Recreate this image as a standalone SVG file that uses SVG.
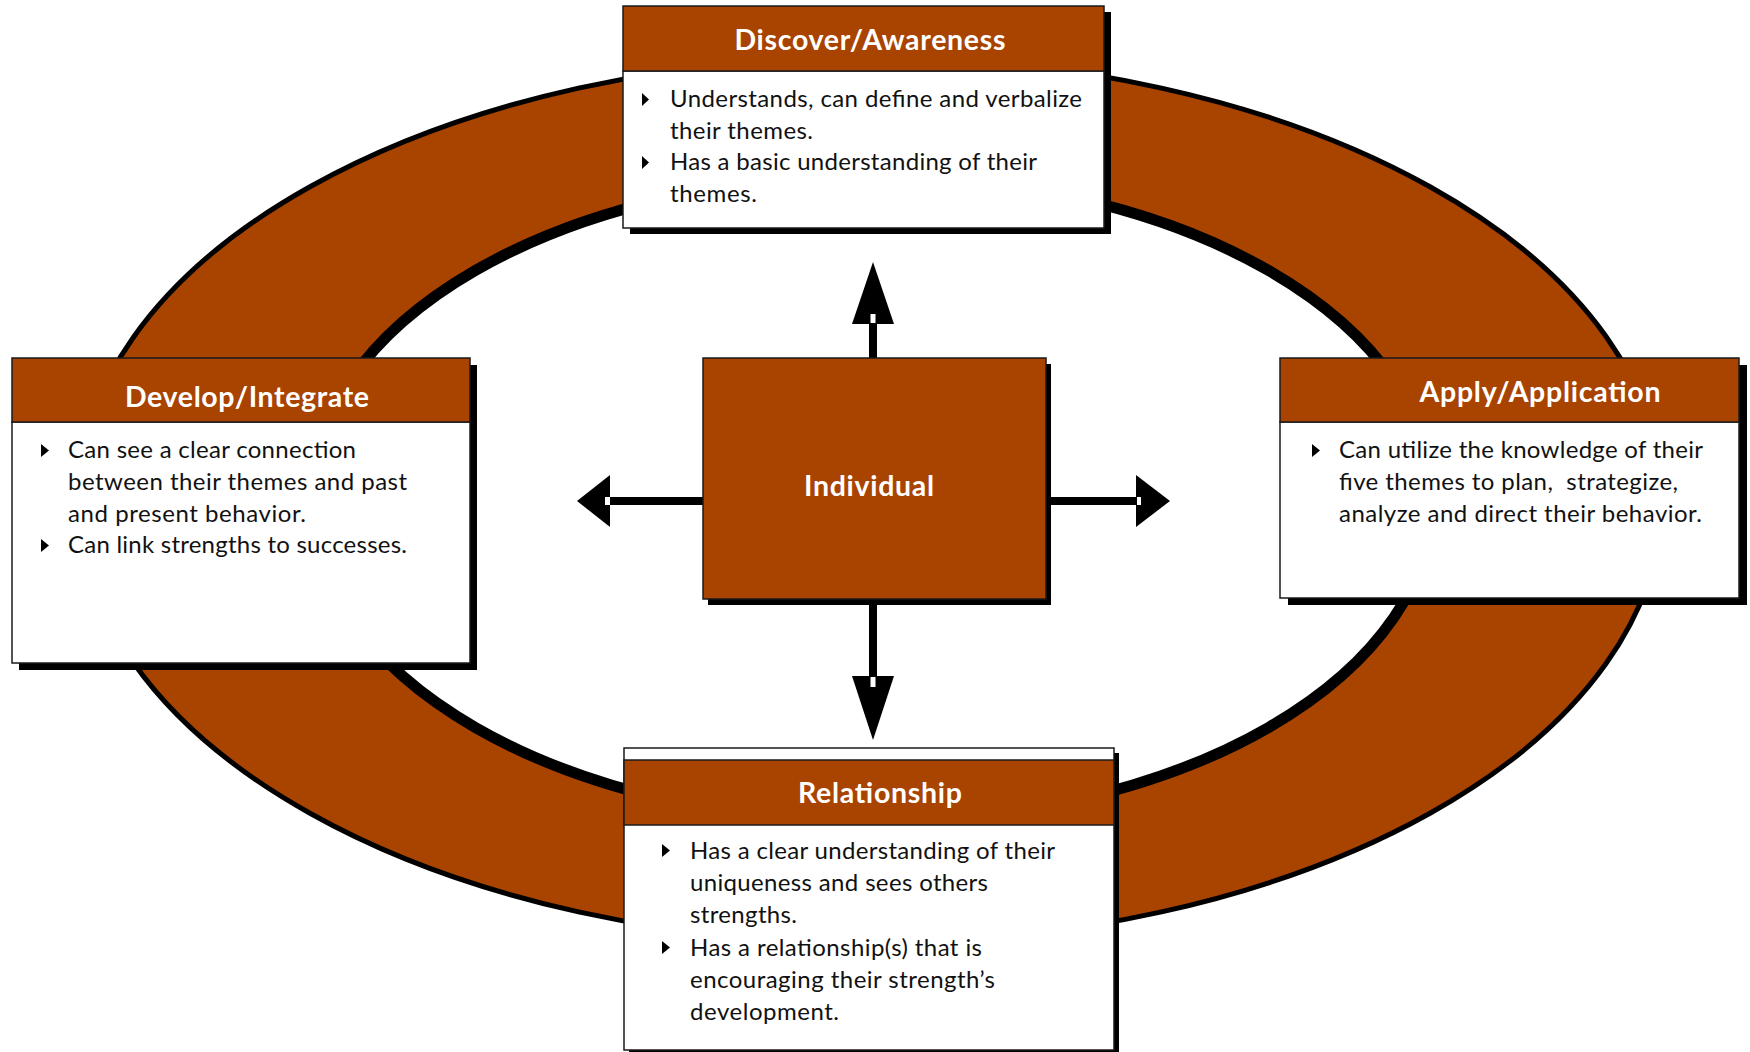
<svg xmlns="http://www.w3.org/2000/svg" width="1750" height="1052" viewBox="0 0 1750 1052">
<style>
.bg{fill:#fff}
.ring{fill:#A94300;stroke:#000;stroke-width:5}
.hole{fill:#fff;stroke:#000;stroke-width:11}
.shadow{fill:#000}
.hdr{fill:#A94300;stroke:#1a1a1a;stroke-width:1.5}
.body{fill:#fff;stroke:#1a1a1a;stroke-width:1.5}
.title{font-family:Lato,"Liberation Sans",sans-serif;font-weight:bold;font-size:28.5px;fill:#fff;text-anchor:middle}
.txt{font-family:Lato,"Liberation Sans",sans-serif;font-size:24px;fill:#111}
.bul{fill:#000}
.arr{fill:#000}
.notch{fill:#fff}
</style>
<rect class="bg" x="0" y="0" width="1750" height="1052"/>
<g id="ring">
<ellipse class="ring" cx="870" cy="500" rx="792" ry="443"/>
<ellipse class="hole" cx="872" cy="499" rx="561" ry="323"/>
</g>
<g id="connectors">
<rect class="arr" x="869" y="322" width="8" height="38"/>
<polygon class="arr" points="873,262 894,324 852,324"/>
<rect class="notch" x="870.5" y="314" width="5" height="9"/>
<rect class="arr" x="869" y="603" width="8" height="76"/>
<polygon class="arr" points="873,740 894,676 852,676"/>
<rect class="notch" x="870.5" y="677" width="5" height="10"/>
<rect class="arr" x="608" y="497" width="97" height="8"/>
<polygon class="arr" points="577,501 610,475 610,527"/>
<rect class="notch" x="605" y="497" width="5" height="8"/>
<rect class="arr" x="1046" y="497" width="92" height="8"/>
<polygon class="arr" points="1170,501 1136,475 1136,527"/>
<rect class="notch" x="1137" y="497" width="4" height="8"/>
</g>
<g id="individual">
<rect class="shadow" x="708" y="364" width="343" height="241"/>
<rect class="hdr" x="703" y="358" width="343" height="241"/>
<text class="title" x="869" y="496" textLength="130">Individual</text>
</g>
<g id="discover">
<rect class="shadow" x="630" y="12" width="481" height="222"/>
<rect class="body" x="623" y="71" width="481" height="157"/>
<rect class="hdr" x="623" y="6" width="481" height="65"/>
<text class="title" x="870" y="50" textLength="271">Discover/Awareness</text>
<polygon class="bul" points="642,93 649,99.5 642,106"/>
<text class="txt" x="670" y="107" textLength="412">Understands, can define and verbalize</text>
<text class="txt" x="670" y="139" textLength="143">their themes.</text>
<polygon class="bul" points="642,156 649,162.5 642,169"/>
<text class="txt" x="670" y="170" textLength="367">Has a basic understanding of their</text>
<text class="txt" x="670" y="202" textLength="87">themes.</text>
</g>
<g id="develop">
<rect class="shadow" x="19" y="365" width="458" height="305"/>
<rect class="body" x="12" y="422" width="458" height="241"/>
<rect class="hdr" x="12" y="358" width="458" height="64"/>
<text class="title" x="247" y="407" textLength="244">Develop/Integrate</text>
<polygon class="bul" points="41,444 49,450.5 41,457"/>
<text class="txt" x="68" y="458" textLength="288">Can see a clear connection</text>
<text class="txt" x="68" y="490" textLength="339">between their themes and past</text>
<text class="txt" x="68" y="522" textLength="238">and present behavior.</text>
<polygon class="bul" points="41,539 49,545.5 41,552"/>
<text class="txt" x="68" y="553" textLength="339">Can link strengths to successes.</text>
</g>
<g id="apply">
<rect class="shadow" x="1288" y="365" width="459" height="240"/>
<rect class="body" x="1280" y="422" width="459" height="176"/>
<rect class="hdr" x="1280" y="358" width="459" height="64"/>
<text class="title" x="1540" y="402" textLength="241">Apply/Application</text>
<polygon class="bul" points="1312,444 1320,450.5 1312,457"/>
<text class="txt" x="1339" y="458" textLength="364">Can utilize the knowledge of their</text>
<text class="txt" x="1339" y="490" textLength="339" xml:space="preserve">five themes to plan,  strategize,</text>
<text class="txt" x="1339" y="522" textLength="363">analyze and direct their behavior.</text>
</g>
<g id="relationship">
<rect class="shadow" x="629" y="753" width="490" height="302"/>
<rect class="body" x="624" y="748" width="490" height="302"/>
<rect class="hdr" x="624" y="760" width="490" height="65"/>
<text class="title" x="880" y="803" textLength="164">Relationship</text>
<polygon class="bul" points="662,844 670,850.5 662,857"/>
<text class="txt" x="690" y="859" textLength="365">Has a clear understanding of their</text>
<text class="txt" x="690" y="891" textLength="298">uniqueness and sees others</text>
<text class="txt" x="690" y="923" textLength="107">strengths.</text>
<polygon class="bul" points="662,941 670,947.5 662,954"/>
<text class="txt" x="690" y="956" textLength="292">Has a relationship(s) that is</text>
<text class="txt" x="690" y="988" textLength="305">encouraging their strength’s</text>
<text class="txt" x="690" y="1020" textLength="149">development.</text>
</g>
</svg>
